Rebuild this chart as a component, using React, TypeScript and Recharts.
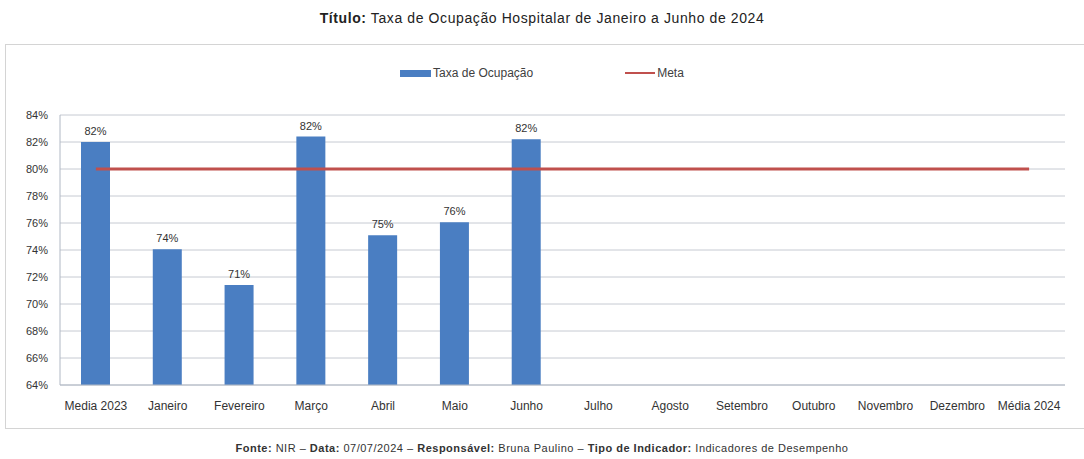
import React from 'react';
import { ComposedChart, Bar, Line, XAxis, YAxis, CartesianGrid, LabelList, Legend } from 'recharts';

const categories = ['Media 2023', 'Janeiro', 'Fevereiro', 'Março', 'Abril', 'Maio', 'Junho', 'Julho', 'Agosto', 'Setembro', 'Outubro', 'Novembro', 'Dezembro', 'Média 2024'];
const ocupacao: (number | null)[] = [82.0, 74.05, 71.4, 82.4, 75.1, 76.05, 82.2, null, null, null, null, null, null, null];
const meta: number[] = [80, 80, 80, 80, 80, 80, 80, 80, 80, 80, 80, 80, 80, 80];
const yTicks = [64, 66, 68, 70, 72, 74, 76, 78, 80, 82, 84];
const boundaryTicks = [0, 1, 2, 3, 4, 5, 6, 7, 8, 9, 10, 11, 12, 13, 14];

const data = categories.map((name, i) => ({ name, ocupacao: ocupacao[i], meta: meta[i] }));

const BLUE = '#4A7EC2';
const RED = '#C0504D';
const FONT = '"Liberation Sans", Arial, sans-serif';

const LegendContent = () => (
  <div style={{ display: 'flex', justifyContent: 'center', alignItems: 'center', fontFamily: FONT, fontSize: 12, lineHeight: '14px', height: 14, color: '#404040' }}>
    <div style={{ display: 'flex', alignItems: 'center' }}>
      <div style={{ width: 31, height: 7, background: BLUE, marginRight: 2 }} />
      <span>Taxa de Ocupação</span>
    </div>
    <div style={{ display: 'flex', alignItems: 'center', marginLeft: 92 }}>
      <div style={{ width: 30, height: 2, background: RED, marginRight: 2 }} />
      <span>Meta</span>
    </div>
  </div>
);

export default function App() {
  return (
    <div style={{ position: 'absolute', left: 0, top: 0, width: 1084, height: 459, background: '#fff', fontFamily: FONT }}>
      <div style={{ position: 'absolute', top: 10, left: 0, width: 1084, textAlign: 'center', fontSize: 14, letterSpacing: 0.6, color: '#222' }}>
        <b>Título:</b> Taxa de Ocupação Hospitalar de Janeiro a Junho de 2024
      </div>
      <div style={{ position: 'absolute', top: 44, left: 5, width: 1090, height: 385, border: '1px solid #D4D4D4', boxSizing: 'border-box' }} />
      <div style={{ position: 'absolute', top: 0, left: 0 }}>
        <ComposedChart width={1084} height={459} data={data} margin={{ top: 101, right: 19, bottom: 44, left: 10 }}>
          <CartesianGrid vertical={false} stroke="#C6CAD2" strokeWidth={1} yAxisId="y" xAxisId="cat" />
          <XAxis xAxisId="grid" type="number" domain={[0, 14]} ticks={boundaryTicks} height={0} tickSize={4}
            tickFormatter={() => ''} axisLine={false} tickLine={{ stroke: '#C6CAD2' }} allowDataOverflow />
          <XAxis xAxisId="cat" dataKey="name" interval={0} tickLine={false} axisLine={{ stroke: '#B0B8C4' }} height={30}
            tickMargin={10} tick={{ fontSize: 12, fill: '#333', fontFamily: FONT }} />
          <YAxis yAxisId="y" domain={[64, 84]} ticks={yTicks} width={50} allowDataOverflow
            tickFormatter={(v: number) => `${v}%`} axisLine={{ stroke: '#B0B8C4' }} tickLine={false}
            tick={{ fontSize: 11, fill: '#333', fontFamily: FONT }} tickMargin={6} />
          <YAxis yAxisId="r" orientation="right" width={0} tick={false} tickLine={false} axisLine={{ stroke: '#B8CCE4' }} domain={[64, 84]} />
          <Legend verticalAlign="top" content={<LegendContent />} wrapperStyle={{ top: 66, left: 0, width: 1084 }} />
          <Bar xAxisId="cat" yAxisId="y" dataKey="ocupacao" name="Taxa de Ocupação" fill={BLUE} barSize={29} isAnimationActive={false}>
            <LabelList dataKey="ocupacao" position="top" offset={7}
              formatter={(v: any) => (v == null ? '' : `${Math.round(v)}%`)}
              style={{ fontSize: 11, fill: '#333', fontFamily: FONT }} />
          </Bar>
          <Line xAxisId="cat" yAxisId="y" dataKey="meta" name="Meta" stroke={RED} strokeWidth={3} dot={false} type="linear" isAnimationActive={false} />
        </ComposedChart>
      </div>
      <div style={{ position: 'absolute', top: 442, left: 0, width: 1084, textAlign: 'center', fontSize: 11, letterSpacing: 0.5, color: '#333' }}>
        <b>Fonte:</b> NIR – <b>Data:</b> 07/07/2024 – <b>Responsável:</b> Bruna Paulino – <b>Tipo de Indicador:</b> Indicadores de Desempenho
      </div>
    </div>
  );
}
